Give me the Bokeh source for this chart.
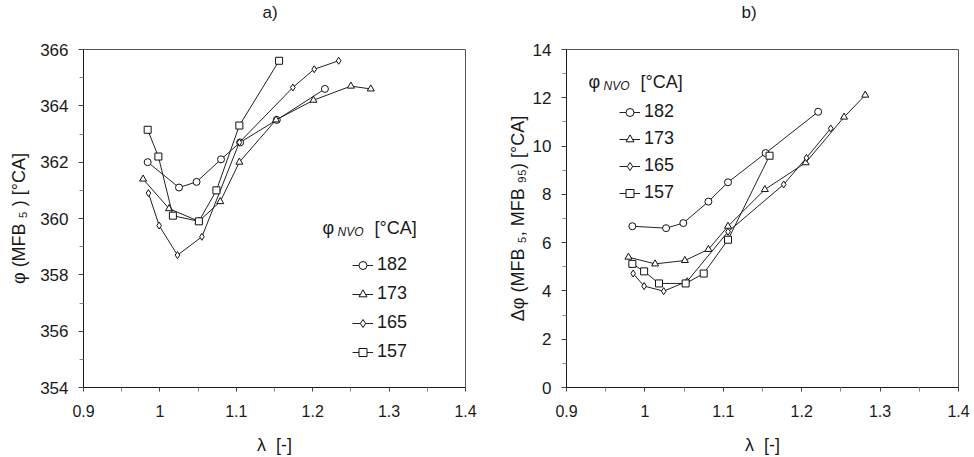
from bokeh.plotting import figure
from bokeh.layouts import row
from bokeh.models import Legend, LegendItem, Label, Range1d, FixedTicker, Title
from bokeh.embed import file_html
from bokeh.resources import INLINE

FONT = "Liberation Sans"
INK = "#1a1a1a"
NB = "\u00a0"

series_names = ["182", "173", "165", "157"]
series_markers = ["circle", "triangle", "diamond", "square"]

x_ticks = [0.9, 1.0, 1.1, 1.2, 1.3, 1.4]
x_tick_labels = ["0.9", "1", "1.1", "1.2", "1.3", "1.4"]
x_minor = [0.95, 1.05, 1.15, 1.25, 1.35]

# ---- panel a) : phi(MFB5) [deg CA]
a_lam_182 = [0.984, 1.025, 1.048, 1.080, 1.105, 1.153, 1.216]
a_phi_182 = [362.0, 361.1, 361.3, 362.1, 362.7, 363.5, 364.6]
a_lam_173 = [0.978, 1.012, 1.051, 1.079, 1.104, 1.152, 1.201, 1.250, 1.276]
a_phi_173 = [361.4, 360.35, 359.9, 360.6, 362.0, 363.5, 364.2, 364.7, 364.6]
a_lam_165 = [0.985, 0.999, 1.023, 1.055, 1.104, 1.174, 1.202, 1.234]
a_phi_165 = [360.9, 359.75, 358.7, 359.35, 362.7, 364.65, 365.3, 365.6]
a_lam_157 = [0.984, 0.998, 1.017, 1.051, 1.074, 1.104, 1.156]
a_phi_157 = [363.15, 362.2, 360.1, 359.9, 361.0, 363.3, 365.6]
a_y_ticks = [354, 356, 358, 360, 362, 364, 366]
a_y_minor = [355, 357, 359, 361, 363, 365]

# ---- panel b) : delta phi(MFB5, MFB95) [deg CA]
b_lam_182 = [0.984, 1.027, 1.049, 1.081, 1.106, 1.154, 1.221]
b_dphi_182 = [6.68, 6.60, 6.81, 7.70, 8.50, 9.71, 11.42]
b_lam_173 = [0.979, 1.013, 1.051, 1.081, 1.106, 1.153, 1.205, 1.254, 1.281]
b_dphi_173 = [5.40, 5.12, 5.26, 5.72, 6.68, 8.20, 9.31, 11.20, 12.11]
b_lam_165 = [0.985, 0.999, 1.024, 1.054, 1.106, 1.177, 1.206, 1.237]
b_dphi_165 = [4.72, 4.20, 3.99, 4.40, 6.45, 8.41, 9.51, 10.73]
b_lam_157 = [0.984, 0.999, 1.018, 1.052, 1.075, 1.106, 1.159]
b_dphi_157 = [5.12, 4.81, 4.31, 4.31, 4.72, 6.12, 9.60]
b_y_ticks = [0, 2, 4, 6, 8, 10, 12, 14]
b_y_minor = [1, 3, 5, 7, 9, 11, 13]

a_ylabel = "φ" + NB + "(MFB" + NB + "₅" + NB + ")" + NB + "[°CA]"
b_ylabel = "Δφ" + NB + "(MFB" + NB + "₅," + NB + "MFB" + NB + "₉₅)" + NB + "[°CA]"
x_label = "λ" + NB + NB + "[-]"


def make_panel(xs, ys, yr, yticks, yminor, ylabel, title, left_border, right_border,
               legend_xy, legend_spacing, header_xy, ylabel_standoff, title_offset):
    p = figure(width=487, height=457, output_backend="svg", toolbar_location=None,
               x_range=Range1d(0.9, 1.4), y_range=Range1d(*yr),
               min_border_left=left_border, min_border_right=right_border,
               min_border_top=49, min_border_bottom=69)
    p.background_fill_color = "white"
    p.border_fill_color = "white"
    p.outline_line_color = "#555555"
    p.outline_line_width = 1
    p.xgrid.visible = False
    p.ygrid.visible = False

    # spacer between frame and panel title, then the title itself (outermost)
    p.add_layout(Title(text=NB, text_font_size="10px", standoff=15), "above")
    p.add_layout(Title(text=title, align="left", offset=title_offset, standoff=0,
                       text_font=FONT, text_font_size="17px", text_font_style="normal",
                       text_color=INK), "above")

    p.xaxis.ticker = FixedTicker(ticks=x_ticks, minor_ticks=x_minor)
    p.xaxis.major_label_overrides = {t: s for t, s in zip(x_ticks, x_tick_labels)}
    p.yaxis.ticker = FixedTicker(ticks=yticks, minor_ticks=yminor)

    for ax in (p.xaxis[0], p.yaxis[0]):
        ax.axis_line_color = INK
        ax.axis_line_width = 1
        ax.major_tick_line_color = "#444444"
        ax.minor_tick_line_color = "#888888"
        ax.major_tick_in = 0
        ax.minor_tick_in = 0
        ax.major_label_text_font = FONT
        ax.major_label_text_color = INK
        ax.axis_label_text_font = FONT
        ax.axis_label_text_color = INK
        ax.axis_label_text_font_style = "normal"
        ax.axis_label_text_font_size = "18px"
    p.xaxis.major_tick_out = 4
    p.xaxis.minor_tick_out = 4
    p.xaxis.major_label_standoff = 13
    p.xaxis.major_label_text_font_size = "16px"
    p.xaxis.axis_label = x_label
    p.xaxis.axis_label_standoff = 15
    p.yaxis.major_tick_out = 5
    p.yaxis.minor_tick_out = 4
    p.yaxis.major_label_standoff = 10
    p.yaxis.major_label_text_font_size = "17px"
    p.yaxis.axis_label = ylabel
    p.yaxis.axis_label_standoff = ylabel_standoff

    items = []
    for x, y, name, mk in zip(xs, ys, series_names, series_markers):
        lr = p.line(x, y, line_color="#222222", line_width=1)
        sr = p.scatter(x, y, marker=mk, size=7, fill_color="white",
                       line_color="#111111", line_width=1)
        items.append(LegendItem(label=name, renderers=[lr, sr]))

    leg = Legend(items=items, location=legend_xy, orientation="vertical",
                 background_fill_alpha=0, border_line_alpha=0,
                 padding=0, margin=0, spacing=legend_spacing,
                 glyph_width=21, glyph_height=20, label_height=20,
                 label_standoff=4, label_text_font=FONT,
                 label_text_font_size="18px", label_text_color=INK)
    p.add_layout(leg)

    hx, hy = header_xy
    p.add_layout(Label(x=hx, y=hy, x_units="screen", y_units="screen", text="φ",
                       text_font=FONT, text_font_size="18px", text_color=INK,
                       text_baseline="alphabetic"))
    p.add_layout(Label(x=hx + 15, y=hy - 4, x_units="screen", y_units="screen", text="NVO",
                       text_font=FONT, text_font_size="12px", text_font_style="italic",
                       text_color=INK, text_baseline="alphabetic"))
    p.add_layout(Label(x=hx + 52, y=hy, x_units="screen", y_units="screen", text="[°CA]",
                       text_font=FONT, text_font_size="18px", text_color=INK,
                       text_baseline="alphabetic"))
    return p


pa = make_panel([a_lam_182, a_lam_173, a_lam_165, a_lam_157],
                [a_phi_182, a_phi_173, a_phi_165, a_phi_157],
                (354, 366), a_y_ticks, a_y_minor, a_ylabel, "a)",
                83, 22, (269, 25), 8, (239, 160), 8, 179)
pb = make_panel([b_lam_182, b_lam_173, b_lam_165, b_lam_157],
                [b_dphi_182, b_dphi_173, b_dphi_165, b_dphi_157],
                (0, 14), b_y_ticks, b_y_minor, b_ylabel, "b)",
                79, 16, (53, 184), 6, (22, 306), 2, 175)

layout = row(pa, pb)
open("out.html", "w").write(file_html(layout, INLINE))
